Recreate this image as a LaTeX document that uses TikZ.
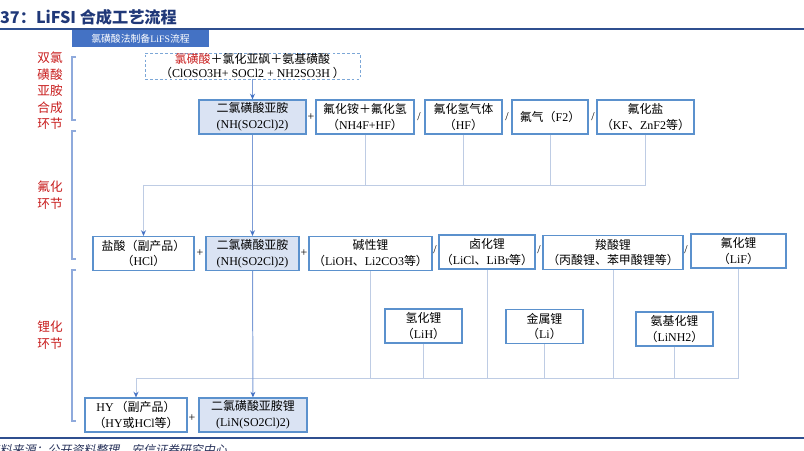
\documentclass[tikz,border=0pt]{standalone}
\usepackage{fontspec}
\setmainfont{Liberation Serif}
\newfontfamily\cjk{Noto Sans CJK SC}
\newfontfamily\cjksl{Noto Sans CJK SC}[FakeSlant=0.2]
\newcommand\zh[1]{{\cjk #1}}
\usetikzlibrary{arrows.meta}
\definecolor{titleblue}{RGB}{32,56,120}
\definecolor{ruleblue}{RGB}{47,79,143}
\definecolor{hdrblue}{RGB}{68,114,196}
\definecolor{boxblue}{RGB}{91,145,205}
\definecolor{keyfill}{RGB}{218,227,243}
\definecolor{linkgrey}{RGB}{190,204,228}
\definecolor{arrblue}{RGB}{68,114,196}
\definecolor{brkblue}{RGB}{143,170,220}
\definecolor{labred}{RGB}{200,30,30}
\definecolor{srcblue}{RGB}{40,50,90}

\begin{document}
\begin{tikzpicture}[x=0.025cm,y=-0.025cm,>={Stealth[length=4pt,width=3.5pt,color=arrblue]},
 font=\fontsize{8.5}{11.3}\selectfont,
 box/.style={draw=boxblue,line width=0.8pt,fill=white,align=center,inner sep=1pt,minimum height=0.85cm},
 key/.style={box,fill=keyfill},
 link/.style={draw=linkgrey,line width=0.7pt},
 arr/.style={draw=arrblue!70,line width=0.7pt,->},
 stage/.style={text=labred,align=center,font=\cjk\fontsize{9}{11.7}\selectfont},
 brace/.style={draw=brkblue,line width=0.8pt},
 rule/.style={draw=ruleblue,line width=1.2pt}]
\useasboundingbox (0,0) rectangle (804,451);
% title and rules
\node[anchor=west,text=titleblue,font=\cjk\bfseries\fontsize{11.5}{12}\selectfont] (title) at (-21,17) {图37：LiFSI 合成工艺流程};
\draw[rule] (0,29) -- (804,29);
\draw[rule] (0,438) -- (804,438);
\node[fill=hdrblue,text=white,minimum width=3.425cm,minimum height=0.425cm,inner sep=0pt,font=\fontsize{7}{8}\selectfont] (hdr) at (140.5,38.5) {\zh{氯磺酸法制备}LiFS\zh{流程}};
% stages on the left
\draw[brace] (76,57) -- (72,57) -- (72,120) -- (76,120);
\draw[brace] (76,131) -- (72,131) -- (72,259) -- (76,259);
\draw[brace] (76,270) -- (72,270) -- (72,421) -- (76,421);
\node[stage] (s1) at (50,91) {双氯\\磺酸\\亚胺\\合成\\环节};
\node[stage] (s2) at (50,195) {氟化\\环节};
\node[stage] (s3) at (50,335) {锂化\\环节};
% raw materials
\node[draw=boxblue!80,dashed,dash pattern=on 2pt off 1.5pt,line width=0.6pt,minimum width=5.375cm,minimum height=0.65cm,inner sep=0pt,align=center,font=\fontsize{8.5}{9.5}\selectfont] (raw) at (252.5,66)
 {{\color{labred}\zh{氯磺酸}}\zh{＋氯化亚砜＋氨基磺酸}\\\zh{（}ClOSO3H+ SOCl2 + NH2SO3H \zh{）}};
% fluorination row
\node[key,minimum width=2.675cm] (A1) at (252.5,117) {\zh{二氯磺酸亚胺}\\(NH(SO2Cl)2)};
\node[box,minimum width=2.45cm] (B1) at (365,117) {\zh{氟化铵＋氟化氢}\\\zh{（}NH4F+HF\zh{）}};
\node[box,minimum width=1.925cm] (C1) at (463.5,117) {\zh{氟化氢气体}\\\zh{（}HF\zh{）}};
\node[box,minimum width=1.9cm] (D1) at (550,117) {\zh{氟气（}F2\zh{）}};
\node[box,minimum width=2.425cm] (E1) at (645.5,117) {\zh{氟化盐}\\\zh{（}KF\zh{、}ZnF2\zh{等）}};
\node (p1) at (311,117) {+};
\foreach \x in {419,507,593} \node (d\x) at (\x,117) {/};
% lithiation row
\node[box,minimum width=2.525cm] (HCl) at (143.5,253.5) {\zh{盐酸（副产品）}\\\zh{（}HCl\zh{）}};
\node[key,minimum width=2.325cm] (A2) at (252.5,253.5) {\zh{二氯磺酸亚胺}\\(NH(SO2Cl)2)};
\node[box,minimum width=3.075cm] (Li1) at (370.5,253.5) {\zh{碱性锂}\\\zh{（}LiOH\zh{、}Li2CO3\zh{等）}};
\node[box,minimum width=2.4cm] (Li2) at (487,252) {\zh{卤化锂}\\\zh{（}LiCl\zh{、}LiBr\zh{等）}};
\node[box,minimum width=3.5cm] (Li3) at (613,252.5) {\zh{羧酸锂}\\\zh{（丙酸锂、苯甲酸锂等）}};
\node[box,minimum width=2.375cm] (Li4) at (738.5,251) {\zh{氟化锂}\\\zh{（}LiF\zh{）}};
\node (p2) at (200,253) {+};
\node (p3) at (304,253) {+};
\foreach \x in {435,539,686} \node (d\x) at (\x,250) {/};
\node[box,minimum width=1.925cm] (LiH) at (423.5,326) {\zh{氢化锂}\\\zh{（}LiH\zh{）}};
\node[box,minimum width=1.925cm] (Li) at (544.5,326.5) {\zh{金属锂}\\\zh{（}Li\zh{）}};
\node[box,minimum width=1.925cm] (LiNH2) at (674.5,329) {\zh{氨基化锂}\\\zh{（}LiNH2\zh{）}};
% products
\node[box,minimum width=2.55cm] (HY) at (136,415) {HY\,\zh{（副产品）}\\\zh{（}HY\zh{或}HCl\zh{等）}};
\node[key,minimum width=2.7cm] (LiN) at (253,415) {\zh{二氯磺酸亚胺锂}\\(LiN(SO2Cl)2)};
\node (p4) at (192,418) {+};
% connectors
\draw[arr] (raw) -- (A1);
\coordinate (fbar) at (0,185);
\foreach \n in {B1,C1,D1} \draw[link] (\n) -- (\n |- fbar);
\draw[link] (E1) |- (HCl |- fbar);
\draw[link,->] (HCl |- fbar) -- (HCl);
\draw[arr] (A1) -- (A2);
\coordinate (lbar) at (0,378);
\foreach \n in {Li1,Li2,Li3,LiH,Li,LiNH2} \draw[link] (\n) -- (\n |- lbar);
\draw[link] (Li4) |- (HY |- lbar);
\draw[link,->] (HY |- lbar) -- (HY);
\draw[arr] (A2) -- (LiN);
% source
\node[anchor=west,text=srcblue,font=\cjksl\fontsize{8.5}{9}\selectfont] (src) at (-17,450) {资料来源：公开资料整理，安信证券研究中心};
\end{tikzpicture}
\end{document}
